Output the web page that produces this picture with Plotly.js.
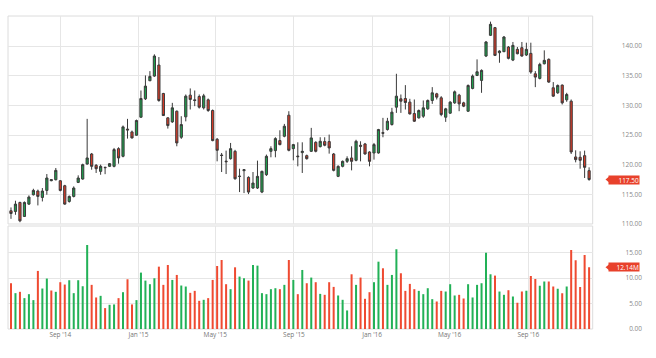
<!DOCTYPE html>
<html>
<head>
<meta charset="utf-8">
<script src="https://cdn.plot.ly/plotly-3.0.1.min.js"></script>
<style>
html,body{margin:0;padding:0;background:#ffffff;}
#chart{width:656px;height:358px;}
</style>
</head>
<body>
<div id="chart"></div>
<script>
// ---- DATA (weekly candles) ----
const firstWeek = '2014-06-16';

const openP = [
112.23,112.11,113.63,111.27,113.35,114.93,115.55,114.48,115.66,117.30,117.46,117.29,116.45,113.80,114.65,117.01,117.58,120.11,
121.80,119.89,118.87,119.55,119.72,119.72,122.70,121.41,126.00,125.52,124.96,128.00,131.10,134.14,134.93,136.79,132.00,127.89,
127.21,129.01,124.62,128.06,131.72,130.93,131.49,129.58,130.93,129.13,124.28,121.62,120.60,121.01,122.25,118.00,118.99,117.86,116.06,
116.06,115.38,118.31,122.25,122.37,124.06,124.79,128.34,122.70,121.45,122.03,121.52,122.25,123.77,123.04,123.89,123.89,121.80,118.03,
119.72,120.56,121.13,120.73,123.27,123.49,122.14,121.97,121.97,125.40,125.92,126.76,129.69,131.10,131.15,130.54,128.62,127.89,
128.17,129.41,130.82,131.94,131.27,128.00,128.68,130.42,131.72,130.42,129.01,132.85,135.04,134.20,138.31,141.80,143.10,138.87,
139.04,139.83,137.63,139.44,139.72,138.48,138.76,135.32,134.54,137.01,137.75,132.96,132.11,133.41,130.93,130.70,121.30,121.24,121.52,118.99];

const highP = [
112.79,113.92,113.75,113.80,114.82,115.94,115.80,116.06,118.42,117.58,119.44,117.40,116.60,114.80,116.34,118.20,120.17,127.72,
121.97,120.10,120.00,119.66,120.28,122.82,122.93,126.60,127.72,125.75,127.60,132.50,135.04,135.77,138.60,138.14,132.10,128.00,
130.42,129.13,128.17,131.83,132.85,132.50,131.83,131.94,131.15,129.30,124.50,121.97,122.37,123.66,122.50,119.32,119.27,118.03,118.76,
120.68,119.00,121.70,123.10,124.62,125.80,126.87,129.01,123.50,123.77,123.77,121.70,126.20,123.94,124.62,124.62,125.07,121.97,119.89,
120.70,121.41,123.10,124.20,123.94,123.66,122.25,123.66,126.03,127.89,127.89,129.58,135.32,131.83,133.41,131.10,130.99,129.30,
130.82,130.99,133.07,132.11,131.55,129.58,130.70,132.50,131.94,130.60,133.52,135.20,137.75,136.06,140.85,144.11,143.21,139.27,
141.69,140.00,140.68,139.83,140.68,140.56,140.56,135.77,137.18,139.27,137.92,133.92,133.52,133.52,132.11,130.99,122.42,122.25,122.37,119.55];

const lowP = [
110.87,111.55,110.30,111.20,113.20,114.80,113.13,113.80,114.93,117.20,117.35,115.50,113.24,113.60,114.48,116.90,117.46,120.00,
119.15,118.60,118.30,118.40,119.60,119.55,120.17,121.24,124.39,124.39,124.90,127.90,130.90,134.10,134.80,130.60,128.20,126.08,
127.04,123.10,124.34,127.30,129.30,129.86,129.46,129.30,128.90,123.94,120.56,118.76,118.42,120.85,117.46,115.38,115.21,115.04,115.94,
115.90,115.20,118.10,121.24,121.24,123.27,124.62,122.25,120.73,119.72,118.60,120.85,122.14,122.08,122.90,123.10,121.86,118.87,117.90,
119.55,120.28,119.04,120.56,120.56,121.69,119.72,120.85,121.86,124.62,125.75,126.59,128.73,128.73,129.30,128.45,127.20,127.77,
127.89,129.24,130.25,130.99,128.17,127.21,128.56,130.25,129.01,129.70,128.90,132.70,134.93,132.11,138.14,141.69,138.31,137.18,
138.98,137.75,137.46,138.60,138.20,138.31,135.32,133.07,134.37,136.90,133.80,131.44,131.94,130.14,130.60,121.80,120.39,119.32,117.75,117.29];

const closeP = [
111.77,113.35,110.54,113.63,114.54,115.66,114.65,115.55,117.75,117.46,119.04,115.66,113.35,114.65,116.06,117.75,120.00,121.13,
119.72,119.32,119.72,119.50,120.17,122.54,121.13,126.37,125.85,124.51,127.44,131.15,133.24,134.87,138.31,130.82,128.28,126.59,
129.58,123.66,126.76,131.55,130.99,130.82,129.69,131.60,129.13,124.06,122.42,121.55,120.50,122.70,117.63,118.05,119.15,115.38,116.90,
118.03,118.87,121.41,122.70,124.39,123.38,126.48,122.42,123.38,121.35,122.25,121.01,124.51,122.25,123.94,123.27,122.82,119.04,119.72,
120.56,121.01,120.56,123.94,123.10,121.80,120.56,123.38,125.92,125.30,127.32,128.85,131.55,130.70,130.48,128.56,127.32,129.13,
129.58,130.82,132.11,131.38,128.45,129.41,130.54,132.28,130.25,129.86,133.35,134.93,135.66,135.89,140.68,143.66,138.42,139.15,
141.52,137.92,140.11,138.70,138.31,139.44,135.61,134.76,136.90,137.58,133.92,131.55,133.35,130.42,131.83,122.14,120.85,120.73,119.55,117.50];

// volume in millions
const volumeM = [
9.00,7.05,7.31,6.07,6.85,5.68,11.42,7.96,9.92,7.57,7.31,9.20,8.74,9.59,7.05,9.59,8.41,16.50,
8.68,6.20,6.52,4.11,4.76,4.83,6.07,7.24,9.78,4.83,5.68,11.09,9.52,8.81,9.98,12.26,8.68,12.59,
9.65,10.63,8.55,8.35,7.11,7.50,5.54,5.74,6.07,9.65,12.39,13.57,8.81,7.83,12.13,10.31,9.98,9.52,12.59,
12.46,7.05,6.85,7.83,8.02,7.83,8.68,13.57,9.65,6.85,11.61,9.00,10.11,9.20,6.91,6.72,9.20,8.28,6.59,
5.74,3.65,10.76,8.68,10.11,5.94,7.24,9.20,13.24,11.94,8.68,10.63,15.66,10.96,7.50,8.87,7.83,7.50,
6.85,8.02,5.87,5.41,7.50,7.37,8.81,6.59,6.72,6.00,8.81,6.20,8.68,9.00,15.00,10.76,10.50,7.37,
6.72,7.63,6.39,5.15,7.37,7.50,10.44,9.85,8.48,9.33,9.33,8.35,7.89,7.05,8.35,15.53,13.50,8.28,14.55,12.14];

const priceTicks = [110,115,120,125,130,135,140];
const volumeTicks = [0,5,10,15];
const monthTickStart = '2014-01-01';

// ---- derived ----
const dates = openP.map((_, i) => {
  const d = new Date(firstWeek + 'T00:00:00Z');
  d.setUTCDate(d.getUTCDate() + 7 * i);
  return d.toISOString().slice(0, 10);
});

const CANDLE_UP = '#1f9d4c', CANDLE_DN = '#d93a27';
const VOL_UP = '#22b157', VOL_DN = '#ef4a31';
const TAG = '#e8412b';
const GRID = '#e6e6e6';
const BORDER = '#dcdcdc';

const volColors = closeP.map((c, i) => {
  const ref = i === 0 ? openP[0] : closeP[i - 1];
  return c >= ref ? VOL_UP : VOL_DN;
});

const lastClose = closeP[closeP.length - 1];
const lastVol = volumeM[volumeM.length - 1];

const traces = [
  {
    type: 'candlestick',
    x: dates, open: openP, high: highP, low: lowP, close: closeP,
    xaxis: 'x', yaxis: 'y',
    increasing: {fillcolor: CANDLE_UP, line: {color: '#3a3a3a', width: 1}},
    decreasing: {fillcolor: CANDLE_DN, line: {color: '#3a3a3a', width: 1}},
    whiskerwidth: 0,
    hoverinfo: 'skip'
  },
  {
    type: 'bar',
    x: dates, y: volumeM,
    xaxis: 'x', yaxis: 'y2',
    marker: {color: volColors, line: {width: 0}},
    hoverinfo: 'skip'
  }
];

const plotRight = 0.9222;
// pixel-size helpers for the price tags
const paperW = 656 - 8 - 14;
const pxToPaperX = px => (px - 8) / paperW;
const priceUnitsPerPx = (145.06 - 110) / 208;
const volUnitsPerPx = 20.25 / 103;

function tagArrow(yval, yref, unitsPerPx) {
  const tip = pxToPaperX(605.5), base = pxToPaperX(609.8);
  const dy = 3.4 * unitsPerPx;
  return {
    type: 'path', xref: 'paper', yref: yref,
    path: `M ${base},${yval + dy} L ${tip},${yval} L ${base},${yval - dy} Z`,
    fillcolor: TAG, line: {width: 0}, layer: 'above'
  };
}

const layout = {
  width: 656, height: 358,
  margin: {l: 8, r: 14, t: 16, b: 29, pad: 0},
  paper_bgcolor: '#ffffff', plot_bgcolor: '#ffffff',
  showlegend: false,
  bargap: 0.55,
  font: {family: '"Open Sans", "DejaVu Sans", sans-serif', size: 6.5, color: '#888888'},
  xaxis: {
    type: 'date', domain: [0, plotRight], anchor: 'y2',
    range: ['2014-06-11 08:00', '2016-12-10 14:00'],
    tickformat: "%b '%y", dtick: 'M4', tick0: monthTickStart,
    showgrid: true, gridcolor: GRID, gridwidth: 1,
    zeroline: false, showline: false, ticks: '',
    tickfont: {color: '#777777', size: 6.5},
    rangeslider: {visible: false}, fixedrange: true
  },
  yaxis: {
    domain: [0.3355, 1], anchor: 'free', position: 1, side: 'left',
    range: [110, 145.06], tickvals: priceTicks, tickformat: '.2f',
    showgrid: true, gridcolor: GRID, gridwidth: 1,
    zeroline: false, showline: false, ticks: '',
    tickfont: {color: '#8a8a8a', size: 6.5}, fixedrange: true
  },
  yaxis2: {
    domain: [0, 0.329], anchor: 'free', position: 1, side: 'left',
    range: [0, 20.25], tickvals: volumeTicks, tickformat: '.2f', ticksuffix: 'M',
    showgrid: true, gridcolor: GRID, gridwidth: 1,
    zeroline: false, showline: false, ticks: '',
    tickfont: {color: '#8a8a8a', size: 6.5}, fixedrange: true
  },
  shapes: [
    {type: 'rect', xref: 'x domain', yref: 'y domain', x0: 0, x1: 1, y0: 0, y1: 1,
     line: {color: BORDER, width: 1}, fillcolor: 'rgba(0,0,0,0)', layer: 'below'},
    {type: 'rect', xref: 'x domain', yref: 'y2 domain', x0: 0, x1: 1, y0: 0, y1: 1,
     line: {color: BORDER, width: 1}, fillcolor: 'rgba(0,0,0,0)', layer: 'below'},
    tagArrow(lastClose, 'y', priceUnitsPerPx),
    tagArrow(lastVol, 'y2', volUnitsPerPx)
  ],
  annotations: [
    {xref: 'paper', yref: 'y', x: 1, y: lastClose, xanchor: 'right', yanchor: 'middle', xshift: -2,
     text: lastClose.toFixed(2), showarrow: false, bgcolor: TAG, borderpad: 0,
     width: 30, height: 8, align: 'right',
     font: {color: '#ffffff', size: 6.5}},
    {xref: 'paper', yref: 'y2', x: 1, y: lastVol, xanchor: 'right', yanchor: 'middle', xshift: -2,
     text: lastVol.toFixed(2) + 'M', showarrow: false, bgcolor: TAG, borderpad: 0,
     width: 30, height: 8, align: 'right',
     font: {color: '#ffffff', size: 6.5}}
  ]
};

Plotly.newPlot('chart', traces, layout, {displayModeBar: false, staticPlot: true});
</script>
</body>
</html>
